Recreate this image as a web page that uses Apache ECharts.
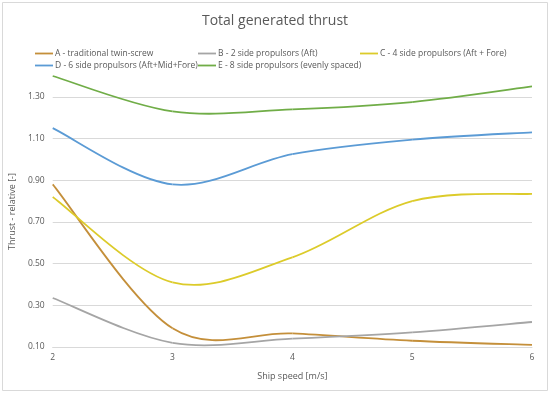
<!DOCTYPE html>
<html><head><meta charset="utf-8">
<script src="https://cdn.jsdelivr.net/npm/echarts@6/dist/echarts.min.js"></script>
<style>html,body{margin:0;padding:0;background:#fff}#c{width:550px;height:394px}</style>
</head><body><div id="c"></div>
<script>
const speeds = [2, 3, 4, 5, 6];
const seriesNames = [
  'A - traditional twin-screw',
  'B - 2 side propulsors (Aft)',
  'C - 4 side propulsors (Aft + Fore)',
  'D - 6 side propulsors (Aft+Mid+Fore)',
  'E - 8 side propulsors (evenly spaced)'
];
const valuesA = [0.88, 0.19, 0.165, 0.13, 0.11];
const valuesB = [0.335, 0.12, 0.14, 0.17, 0.22];
const valuesC = [0.82, 0.41, 0.53, 0.80, 0.835];
const valuesD = [1.15, 0.88, 1.025, 1.095, 1.13];
const valuesE = [1.40, 1.23, 1.24, 1.275, 1.35];
const yTicks = [0.1, 0.3, 0.5, 0.7, 0.9, 1.1, 1.3];

const colors = ['#c48f3a', '#a5a5a5', '#dccb2a', '#5b9bd5', '#70ad47'];
const allValues = [valuesA, valuesB, valuesC, valuesD, valuesE];
const font = '"Open Sans", "Noto Sans", sans-serif';
const txt = '#595959';

const legendPos = [
  {left: 30, top: 44}, {left: 193, top: 44}, {left: 355, top: 44},
  {left: 30, top: 56}, {left: 193, top: 56}
];

// Excel-style smoothed line (Catmull-Rom bezier), points mapped through the axes
function makeRender(vals, color) {
  return function (params, api) {
    if (params.dataIndex !== 0) return null;
    const p = speeds.map((s, j) => api.coord([s, vals[j]]));
    const n = p.length;
    const children = [];
    for (let i = 0; i < n - 1; i++) {
      const p0 = p[Math.max(i - 1, 0)], p1 = p[i], p2 = p[i + 1], p3 = p[Math.min(i + 2, n - 1)];
      children.push({
        type: 'bezierCurve',
        shape: {
          x1: p1[0], y1: p1[1], x2: p2[0], y2: p2[1],
          cpx1: p1[0] + (p2[0] - p0[0]) / 6, cpy1: p1[1] + (p2[1] - p0[1]) / 6,
          cpx2: p2[0] - (p3[0] - p1[0]) / 6, cpy2: p2[1] - (p3[1] - p1[1]) / 6
        },
        style: {fill: null, stroke: color, lineWidth: 1.8}
      });
    }
    return {type: 'group', children: children};
  };
}

const chart = echarts.init(document.getElementById('c'), null, {renderer: 'canvas'});
chart.setOption({
  backgroundColor: '#fff',
  animation: false,
  color: colors,
  title: {
    text: 'Total generated thrust', left: 'center', top: 9,
    textStyle: {fontFamily: font, fontSize: 14, fontWeight: 'normal', color: txt}
  },
  graphic: [{
    type: 'rect', shape: {x: 2.5, y: 2.5, width: 545, height: 388},
    style: {fill: 'none', stroke: '#d9d9d9', lineWidth: 1}, silent: true
  }],
  legend: seriesNames.map((n, i) => ({
    data: [{name: n, itemStyle: {color: colors[i]}}], left: legendPos[i].left, top: legendPos[i].top,
    icon: 'path://M0,0 L20,0 L20,2 L0,2 Z', itemWidth: 18, itemHeight: 2, itemGap: 2,
    textStyle: {fontFamily: font, fontSize: 8.5, color: txt, padding: [0, 0, 0, -3]}
  })),
  grid: {left: 51, right: 18, top: 76, bottom: 47},
  xAxis: {
    type: 'value', min: 2, max: 6, interval: 1,
    name: 'Ship speed [m/s]', nameLocation: 'middle', nameGap: 25,
    nameTextStyle: {fontFamily: font, fontSize: 9, color: txt},
    axisLine: {show: true, lineStyle: {color: '#d9d9d9'}},
    axisTick: {show: false},
    splitLine: {show: false},
    axisLabel: {fontFamily: font, fontSize: 8.5, color: txt, margin: 6}
  },
  yAxis: {
    type: 'value', min: 0.1, max: 1.4, interval: 0.2,
    name: 'Thrust - relative [-]', nameLocation: 'middle', nameGap: 28,
    nameTextStyle: {fontFamily: font, fontSize: 9, color: txt},
    axisLine: {show: false}, axisTick: {show: false},
    axisLabel: {
      fontFamily: font, fontSize: 8.5, color: txt, margin: 8, showMaxLabel: false,
      formatter: v => yTicks.some(t => Math.abs(t - v) < 1e-6) ? v.toFixed(2) : ''
    },
    splitLine: {show: true, lineStyle: {
      color: ['#d9d9d9','#d9d9d9','#d9d9d9','#d9d9d9','#d9d9d9','#d9d9d9','#d9d9d9','rgba(0,0,0,0)'],
      width: 1}}
  },
  series: allValues.map((vals, i) => ({
    name: seriesNames[i], type: 'custom', coordinateSystem: 'cartesian2d',
    itemStyle: {color: colors[i]},
    renderItem: makeRender(vals, colors[i]),
    encode: {x: 0, y: 1},
    data: speeds.map((s, j) => [s, vals[j]])
  }))
});
</script></body></html>
